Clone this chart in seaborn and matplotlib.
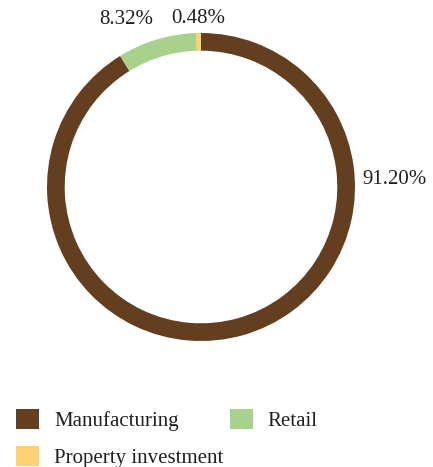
import matplotlib
matplotlib.use("Agg")
import matplotlib.pyplot as plt
import seaborn as sns
from matplotlib.patches import Patch

categories = ["Manufacturing", "Retail", "Property investment"]
values = [91.20, 8.32, 0.48]
labels = ["91.20%", "8.32%", "0.48%"]
colors = ["#643F1F", "#A8D18B", "#FDD26F"]

sns.set_theme(style="white")
plt.rcParams['font.family'] = ['Liberation Serif', 'DejaVu Serif']

W, H = 433, 467
fig = plt.figure(figsize=(W / 100, H / 100), dpi=100)
cx, cy, r = 201, 187, 154
ax = fig.add_axes([(cx - r) / W, (H - cy - r) / H, 2 * r / W, 2 * r / H])
ax.pie(values, colors=colors, startangle=90, counterclock=False, radius=1,
       wedgeprops=dict(width=0.115, linewidth=0))
ax.set_xlim(-1, 1)
ax.set_ylim(-1, 1)
ax.set_aspect('equal')
ax.axis('off')

txt_color = "#231F20"
fs = 15
ax.text(1.045, 0.05, labels[0], ha='left', va='center', fontsize=fs, color=txt_color, clip_on=False)
ax.text(-0.485, 1.09, labels[1], ha='center', va='center', fontsize=fs, color=txt_color, clip_on=False)
ax.text(-0.02, 1.095, labels[2], ha='center', va='center', fontsize=fs, color=txt_color, clip_on=False)

handles = [Patch(facecolor=c, edgecolor='none', label=l) for c, l in zip(colors, categories)]
order = [0, 2, 1]
leg = fig.legend([handles[i] for i in order], [categories[i] for i in order],
                 ncol=2, loc='upper left', bbox_to_anchor=(16 / W, 1 - 409 / H),
                 frameon=False, fontsize=fs, handlelength=1.12, handleheight=1.12,
                 handletextpad=0.7, columnspacing=0.32, labelspacing=0.72,
                 borderaxespad=0, borderpad=0)
for t in leg.get_texts():
    t.set_color(txt_color)

fig.savefig("out.png", dpi=100)
